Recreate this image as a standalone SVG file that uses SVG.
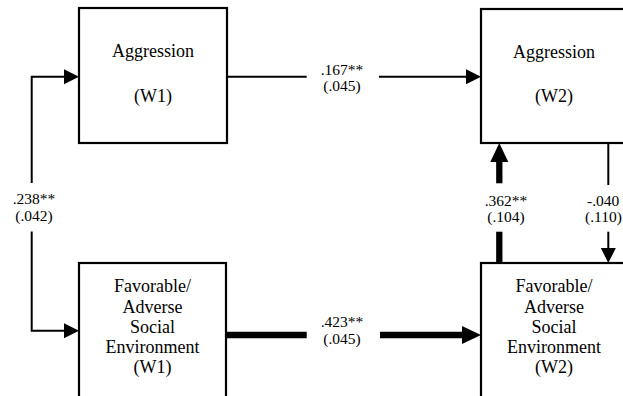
<svg xmlns="http://www.w3.org/2000/svg" width="623" height="396" viewBox="0 0 623 396">
<style>
.box{fill:#fff;stroke:#000;stroke-width:2.2}
.nt{font-family:"Liberation Serif","Times New Roman",serif;font-size:18px;fill:#000;text-anchor:middle}
.lb{font-family:"Liberation Serif","Times New Roman",serif;font-size:15.5px;fill:#000;text-anchor:middle}
.lbs{font-family:"Liberation Serif","Times New Roman",serif;font-size:15.5px;fill:#000}
.thin{fill:none;stroke:#000;stroke-width:2}
.thick{fill:none;stroke:#000;stroke-width:6.3}
</style>
<defs>
<marker id="ah" markerUnits="userSpaceOnUse" markerWidth="16" markerHeight="16" refX="0" refY="7.5" orient="auto" viewBox="0 0 16 16">
<path d="M0,0 L15,7.5 L0,15 Z" fill="#000"/>
</marker>
<marker id="ahk" markerUnits="userSpaceOnUse" markerWidth="20" markerHeight="20" refX="0" refY="9" orient="auto" viewBox="0 0 20 20">
<path d="M0,0 L19,9 L0,18 Z" fill="#000"/>
</marker>
</defs>
<g id="connectors">
<path class="thin" d="M31.7,183 V76.7 H64" marker-end="url(#ah)"/>
<path class="thin" d="M31.7,231.5 V330.7 H64" marker-end="url(#ah)"/>
<path class="thin" d="M227,76.7 H306.7"/>
<path class="thin" d="M379,76.7 H466" marker-end="url(#ah)"/>
<path class="thick" d="M226,335 H306.7"/>
<path class="thick" d="M380,335 H462" marker-end="url(#ahk)"/>
<path class="thick" d="M499.3,263 V231.7"/>
<path class="thick" d="M499.3,183.3 V162" marker-end="url(#ahk)"/>
<path class="thin" d="M608.3,143 V185"/>
<path class="thin" d="M608.3,231.7 V248" marker-end="url(#ah)"/>
<text class="lb" x="342" y="75">.167**</text>
<text class="lb" x="342" y="91">(.045)</text>
<text class="lb" x="34" y="204">.238**</text>
<text class="lb" x="34" y="221">(.042)</text>
<text class="lb" x="506" y="206">.362**</text>
<text class="lb" x="506" y="222">(.104)</text>
<text class="lbs" x="587" y="206">-.040</text>
<text class="lbs" x="585" y="222">(.110)</text>
<text class="lb" x="342" y="327">.423**</text>
<text class="lb" x="342" y="344">(.045)</text>
</g>
<g id="aggression-w1">
<rect class="box" x="79" y="8" width="148" height="135"/>
<text class="nt" x="153" y="57">Aggression</text>
<text class="nt" x="153" y="102">(W1)</text>
</g>
<g id="aggression-w2">
<rect class="box" x="481" y="9" width="146" height="134"/>
<text class="nt" x="554" y="58">Aggression</text>
<text class="nt" x="554" y="102">(W2)</text>
</g>
<g id="environment-w1">
<rect class="box" x="79" y="263" width="147" height="145"/>
<text class="nt" x="152.5" y="292">Favorable/</text>
<text class="nt" x="152.5" y="312.5">Adverse</text>
<text class="nt" x="152.5" y="333">Social</text>
<text class="nt" x="152.5" y="353">Environment</text>
<text class="nt" x="152.5" y="373">(W1)</text>
</g>
<g id="environment-w2">
<rect class="box" x="481" y="263" width="146" height="145"/>
<text class="nt" x="554" y="292">Favorable/</text>
<text class="nt" x="554" y="312.5">Adverse</text>
<text class="nt" x="554" y="333">Social</text>
<text class="nt" x="554" y="353">Environment</text>
<text class="nt" x="554" y="373">(W2)</text>
</g>
</svg>
